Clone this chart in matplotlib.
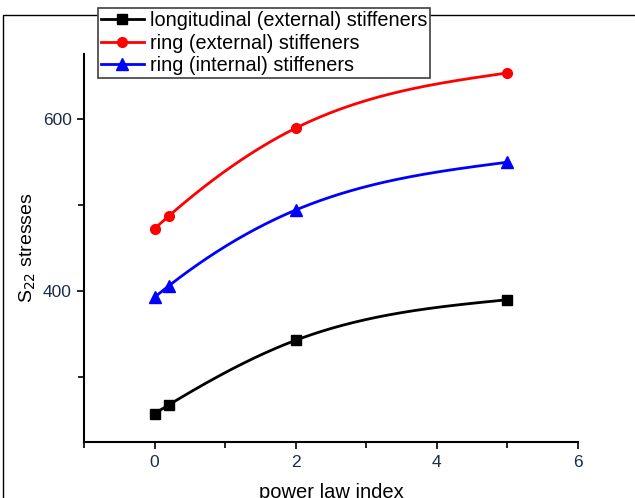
import numpy as np
import matplotlib
matplotlib.use("Agg")
import matplotlib.pyplot as plt
from matplotlib.patches import Rectangle
from matplotlib.ticker import MultipleLocator

plt.rcParams['font.family'] = ['Liberation Sans', 'DejaVu Sans']

# data
power_index = [0, 0.2, 2, 5]
longitudinal_ext = [258, 268, 343, 390]
ring_ext = [472.5, 487, 589, 653]
ring_int = [393, 406, 494, 549.5]

labels = ["longitudinal (external) stiffeners",
          "ring (external) stiffeners",
          "ring (internal) stiffeners"]
colors = ["black", "red", "blue"]
markers = ["s", "o", "^"]
msizes = [7, 7, 9]


def natural_spline(x, y, xn):
    # smooth line through the points (like Origin's spline connect)
    x = np.asarray(x, float)
    y = np.asarray(y, float)
    n = len(x)
    h = np.diff(x)
    A = np.zeros((n, n))
    b = np.zeros(n)
    A[0, 0] = A[-1, -1] = 1
    for i in range(1, n - 1):
        A[i, i - 1] = h[i - 1]
        A[i, i] = 2 * (h[i - 1] + h[i])
        A[i, i + 1] = h[i]
        b[i] = 6 * ((y[i + 1] - y[i]) / h[i] - (y[i] - y[i - 1]) / h[i - 1])
    M = np.linalg.solve(A, b)
    k = np.clip(np.searchsorted(x, xn, side='right') - 1, 0, n - 2)
    t0 = x[k + 1] - xn
    t1 = xn - x[k]
    hk = h[k]
    return (M[k] * t0**3 / (6 * hk) + M[k + 1] * t1**3 / (6 * hk)
            + (y[k] / hk - M[k] * hk / 6) * t0
            + (y[k + 1] / hk - M[k + 1] * hk / 6) * t1)


fig = plt.figure(figsize=(6.35, 4.98), dpi=100)
ax = fig.add_axes([0.1323, 0.1124, 0.7777, 0.7792])

# outer frame, partly cropped like the original export
fig.patches.append(Rectangle((3 / 635, -0.2), 1.2, 1 - 15 / 498 + 0.2,
                             transform=fig.transFigure, fill=False,
                             edgecolor='black', linewidth=1, zorder=0))

xs = np.linspace(0, 5, 300)
handles = []
for ys, c, m, ms, lab in zip([longitudinal_ext, ring_ext, ring_int],
                             colors, markers, msizes, labels):
    ax.plot(xs, natural_spline(power_index, ys, xs), color=c, lw=2)
    ax.plot(power_index, ys, ls='none', marker=m, ms=ms, color=c)
    h, = ax.plot([], [], color=c, lw=2, marker=m, ms=ms, label=lab)
    handles.append(h)

ax.set_xlim(-1, 6)
ax.set_ylim(225, 675)
ax.xaxis.set_major_locator(MultipleLocator(2))
ax.xaxis.set_minor_locator(MultipleLocator(1))
ax.yaxis.set_major_locator(MultipleLocator(200))
ax.yaxis.set_minor_locator(MultipleLocator(100))

for s in ['top', 'right']:
    ax.spines[s].set_visible(False)
for s in ['left', 'bottom']:
    ax.spines[s].set_linewidth(1.5)

tick_col = '#1c2c4c'
ax.tick_params(which='major', direction='out', length=5, width=1.2,
               labelsize=12.5, labelcolor=tick_col, pad=4)
ax.tick_params(which='minor', direction='out', length=4, width=1.2)

ax.set_xlabel("power law index", fontsize=14.5, labelpad=10)
ax.set_ylabel("S$_{22}$ stresses", fontsize=14, labelpad=3)

leg = fig.legend(handles=handles, loc='upper left',
                 bbox_to_anchor=(98 / 635, 1 - 8 / 498),
                 fontsize=14.3, handlelength=2.15, labelspacing=0.18,
                 borderpad=0.15, handletextpad=0.3, borderaxespad=0,
                 fancybox=False, framealpha=1, edgecolor='#404040')
leg.get_frame().set_linewidth(1.2)

fig.savefig("out.png", dpi=100)
